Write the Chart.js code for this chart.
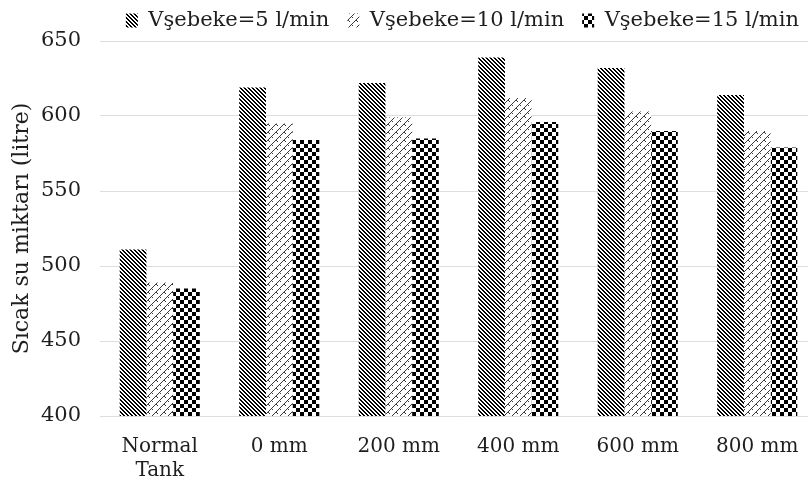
<!DOCTYPE html>
<html lang="tr">
<head>
<meta charset="UTF-8">
<title>Sıcak su miktarı</title>
<style>
  html, body { margin: 0; padding: 0; overflow: hidden; background: #fff; }
  .wrap { width: 820px; height: 486px; }
</style>
</head>
<body>
<div class="wrap"><canvas id="chart"></canvas></div>
<script src="https://cdn.jsdelivr.net/npm/chart.js@4/dist/chart.umd.min.js"></script>
<script>
// data
const categories = [['Normal', 'Tank'], '0 mm', '200 mm', '400 mm', '600 mm', '800 mm'];
const seriesNames = ['Vşebeke=5 l/min', 'Vşebeke=10 l/min', 'Vşebeke=15 l/min'];
const flow5 = [511, 619, 622, 639, 632, 614];
const flow10 = [489, 595, 599, 612, 603, 590];
const flow15 = [485, 584, 585, 596, 590, 579];
const yTicks = [400, 450, 500, 550, 600, 650];

const FONT = 'DejaVu Serif';
const INK = '#1e1e1e';

// small tiles used as bar fills
function tile(size, draw) {
    const c = document.createElement('canvas');
    c.width = c.height = size;
    const g = c.getContext('2d');
    g.fillStyle = '#fff';
    g.fillRect(0, 0, size, size);
    draw(g);
    return g.createPattern(c, 'repeat');
}

const stripes = tile(4, g => {
    g.fillStyle = '#000';
    for (let y = 0; y < 4; y++)
        for (let x = 0; x < 4; x++)
            if ((x - y + 8) % 4 < 2) g.fillRect(x, y, 1, 1);
});

const weave = tile(8, g => {
    g.fillStyle = '#3a3a3a';
    for (let i = 0; i < 8; i++) g.fillRect(i, 7 - i, 1, 1);
    g.fillRect(4, 4, 1, 1);
    g.fillRect(5, 5, 1, 1);
    g.fillRect(0, 1, 1, 1);
});

const checker = tile(8, g => {
    g.fillStyle = '#000';
    g.fillRect(0, 0, 4, 4);
    g.fillRect(4, 4, 4, 4);
});

const fills = [stripes, weave, checker];
const values = [flow5, flow10, flow15];

new Chart(document.getElementById('chart'), {
    type: 'bar',
    data: {
        labels: categories,
        datasets: seriesNames.map((name, i) => ({
            label: name,
            data: values[i],
            backgroundColor: fills[i],
            borderWidth: 0,
            categoryPercentage: 0.67,
            barPercentage: 1.0
        }))
    },
    options: {
        responsive: true,
        maintainAspectRatio: false,
        animation: false,
        layout: { padding: { top: -8, right: 3 } },
        plugins: {
            legend: {
                position: 'top',
                align: 'end',
                labels: {
                    font: { family: FONT, size: 21 },
                    color: INK,
                    boxWidth: 12,
                    boxHeight: 14,
                    padding: 18
                }
            },
            tooltip: { enabled: false }
        },
        scales: {
            x: {
                grid: { display: false },
                border: { display: false },
                ticks: {
                    font: { family: FONT, size: 20 },
                    color: INK,
                    padding: 11,
                    maxRotation: 0
                },
                afterFit: s => { s.height = 70; }
            },
            y: {
                min: 400,
                max: 650,
                afterBuildTicks: s => { s.ticks = yTicks.map(v => ({ value: v })); },
                afterFit: s => { s.width = 100; },
                grid: { color: '#d9dde4', drawTicks: false },
                border: { display: false },
                ticks: {
                    font: { family: FONT, size: 21 },
                    color: INK,
                    padding: 19
                },
                title: {
                    display: true,
                    text: 'Sıcak su miktarı (litre)',
                    font: { family: FONT, size: 22 },
                    color: INK,
                    padding: { top: 9, bottom: 0 }
                }
            }
        }
    }
});
</script>
</body>
</html>
